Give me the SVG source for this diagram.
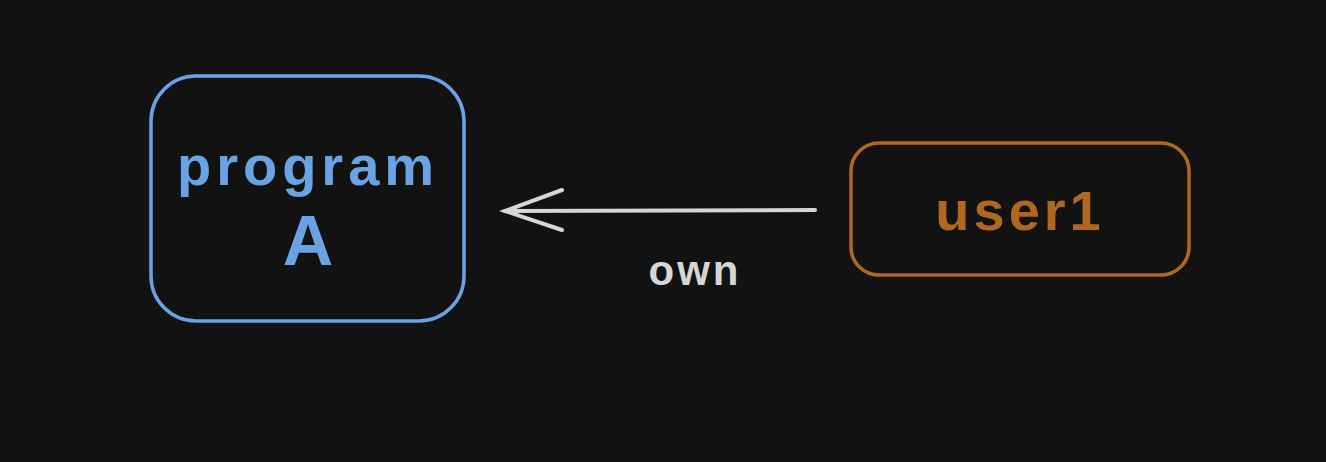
<svg xmlns="http://www.w3.org/2000/svg" width="1326" height="462" viewBox="0 0 1326 462">
<style>
.lbl{font-family:"Liberation Sans",Arial,sans-serif;text-anchor:middle;font-weight:bold}
.box{fill:none;stroke-width:3.5}
</style>
<rect width="1326" height="462" fill="#121212"/>
<g id="connectors">
<g id="edge-user1-programA" stroke="#d6d6d6" stroke-width="4" stroke-linecap="round" fill="none">
<path d="M815,210 L505,211"/>
<path d="M562,190 L505,211 L562,230"/>
</g>
<text class="lbl" x="695" y="285" font-size="42" letter-spacing="3" fill="#d6d6d6">own</text>
</g>
<g id="node-programA">
<rect class="box" x="151" y="76" width="313" height="245" rx="45" stroke="#6aa3e3"/>
<text class="lbl" x="308" y="185" font-size="56" letter-spacing="5" fill="#6aa3e3">program</text>
<text class="lbl" x="308" y="265" font-size="70" fill="#6aa3e3">A</text>
</g>
<g id="node-user1">
<rect class="box" x="851" y="143" width="338" height="132" rx="28" stroke="#b06720"/>
<text class="lbl" x="1020" y="230" font-size="56" letter-spacing="4" fill="#b06720">user1</text>
</g>
</svg>
